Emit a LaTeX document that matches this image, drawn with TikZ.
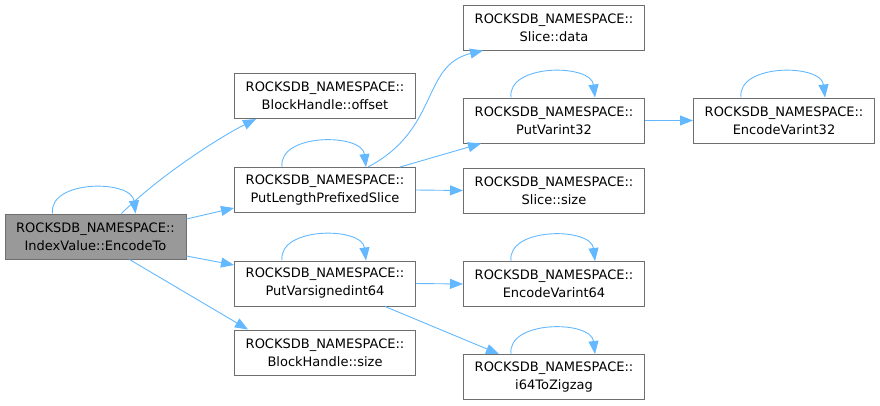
\documentclass[tikz,border=0pt]{standalone}
\usepackage{fontspec}
\setmainfont{DejaVu Sans}
\usetikzlibrary{arrows.meta}
\definecolor{edgeblue}{HTML}{63B8FF}
\definecolor{boxgray}{HTML}{6E6E6E}
\definecolor{selgray}{HTML}{999999}
\tikzset{fn/.style={rectangle,draw=boxgray,fill=white,line width=1pt,minimum width=181pt,
                    minimum height=45pt,inner sep=0pt,align=center,
                    font=\fontsize{13}{18}\selectfont},
         fnsel/.style={fn,fill=selgray},
         call/.style={draw=edgeblue,line width=0.9pt,-{Triangle[length=13pt,width=10pt]}}
         }
\begin{document}
\begin{tikzpicture}[x=1pt,y=-1pt]
        \useasboundingbox (0,0) rectangle (880,405);
        \node[fnsel] (enc) at (95.5,236.5) {ROCKSDB\_NAMESPACE::\\IndexValue::EncodeTo};
        \node[fn] (offs) at (325,96) {ROCKSDB\_NAMESPACE::\\BlockHandle::offset};
        \node[fn] (plps) at (325,190) {ROCKSDB\_NAMESPACE::\\PutLengthPrefixedSlice};
        \node[fn] (pvs) at (325,283.5) {ROCKSDB\_NAMESPACE::\\PutVarsignedint64};
        \node[fn] (bhsize) at (325,352.5) {ROCKSDB\_NAMESPACE::\\BlockHandle::size};
        \node[fn] (sdata) at (554,27.5) {ROCKSDB\_NAMESPACE::\\Slice::data};
        \node[fn] (pv32) at (554,120.5) {ROCKSDB\_NAMESPACE::\\PutVarint32};
        \node[fn] (ssize) at (554,190.5) {ROCKSDB\_NAMESPACE::\\Slice::size};
        \node[fn] (ev64) at (554,284) {ROCKSDB\_NAMESPACE::\\EncodeVarint64};
        \node[fn] (zz) at (554,377) {ROCKSDB\_NAMESPACE::\\i64ToZigzag};
        \node[fn] (ev32) at (784,120.5) {ROCKSDB\_NAMESPACE::\\EncodeVarint32};

        % self calls
        \draw[call] ([xshift=48pt]enc.north west) .. controls +(-4,-34) and +(-4,-34) .. ([xshift=131pt]enc.north west);
        \draw[call] ([xshift=48pt]plps.north west) .. controls +(-4,-34) and +(-4,-34) .. ([xshift=132pt]plps.north west);
        \draw[call] ([xshift=48pt]pvs.north west) .. controls +(-4,-34) and +(-4,-34) .. ([xshift=132pt]pvs.north west);
        \draw[call] ([xshift=48pt]pv32.north west) .. controls +(-4,-34) and +(-4,-34) .. ([xshift=132pt]pv32.north west);
        \draw[call] ([xshift=48pt]ev64.north west) .. controls +(-4,-34) and +(-4,-34) .. ([xshift=132pt]ev64.north west);
        \draw[call] ([xshift=48pt]zz.north west) .. controls +(-4,-34) and +(-4,-34) .. ([xshift=132pt]zz.north west);
        \draw[call] ([xshift=48pt]ev32.north west) .. controls +(-4,-34) and +(-4,-34) .. ([xshift=132pt]ev32.north west);

        % calls from EncodeTo
        \draw[call] ([xshift=117pt]enc.north west) .. controls +(35,-35) and +(-40,20) .. ([xshift=22pt]offs.south west);
        \draw[call] ([yshift=17.5pt]enc.east) -- ([yshift=-18pt]plps.west);
        \draw[call] ([yshift=-19.5pt]enc.east) -- ([yshift=18.5pt]pvs.west);
        \draw[call] ([xshift=125pt]enc.south west) -- ([xshift=14pt]bhsize.north west);

        % second level
        \draw[call] ([xshift=134pt]plps.north west) .. controls +(72,-38) and +(-62,15) .. ([xshift=20pt]sdata.south west);
        \draw[call] ([xshift=166pt]plps.north west) -- ([xshift=18pt]pv32.south west);
        \draw[call] (plps.east) -- (ssize.west);
        \draw[call] (pvs.east) -- (ev64.west);
        \draw[call] ([xshift=151pt]pvs.south west) -- ([xshift=36pt]zz.north west);
        \draw[call] (pv32.east) -- (ev32.west);
\end{tikzpicture}
\end{document}
